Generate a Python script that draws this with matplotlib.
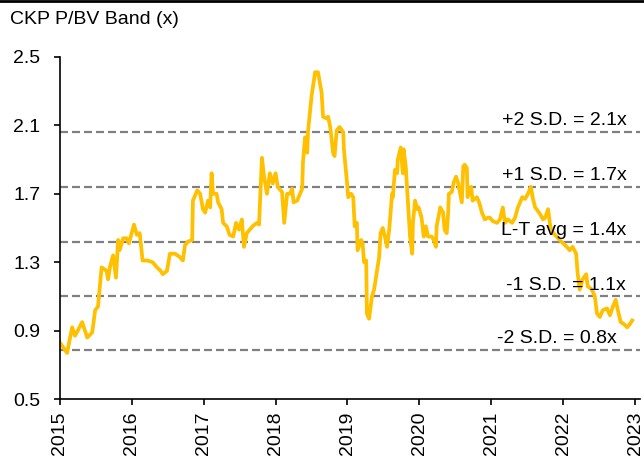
import matplotlib
matplotlib.use('Agg')
import matplotlib.pyplot as plt
from matplotlib.lines import Line2D

plt.rcParams['font.family'] = ['Liberation Sans', 'DejaVu Sans']

# P/BV series (decimal year, multiple)
years = [2015.00, 2015.10, 2015.17, 2015.21, 2015.31, 2015.38, 2015.45, 2015.49, 2015.53, 2015.58,
         2015.65, 2015.67, 2015.70, 2015.74, 2015.78, 2015.81, 2015.83, 2015.88, 2015.93, 2015.96,
         2016.03, 2016.07, 2016.11, 2016.15, 2016.22, 2016.29, 2016.35, 2016.40, 2016.43, 2016.49,
         2016.53, 2016.60, 2016.67, 2016.71, 2016.74, 2016.78, 2016.84, 2016.85, 2016.91, 2016.95,
         2016.99, 2017.02, 2017.06, 2017.09, 2017.11, 2017.13, 2017.18, 2017.20, 2017.25, 2017.27,
         2017.32, 2017.36, 2017.41, 2017.45, 2017.49, 2017.53, 2017.56, 2017.60, 2017.64, 2017.68,
         2017.74, 2017.77, 2017.81, 2017.84, 2017.88, 2017.92, 2017.96, 2018.00, 2018.03, 2018.09,
         2018.12, 2018.16, 2018.20, 2018.23, 2018.25, 2018.30, 2018.37, 2018.38, 2018.41, 2018.44,
         2018.45, 2018.50, 2018.55, 2018.59, 2018.64, 2018.66, 2018.71, 2018.73, 2018.76, 2018.80,
         2018.82, 2018.85, 2018.89, 2018.94, 2018.95, 2018.99, 2019.01, 2019.05, 2019.08, 2019.10,
         2019.13, 2019.14, 2019.19, 2019.21, 2019.23, 2019.26, 2019.27, 2019.30, 2019.34, 2019.37,
         2019.41, 2019.44, 2019.46, 2019.49, 2019.52, 2019.55, 2019.58, 2019.62, 2019.63, 2019.66,
         2019.69, 2019.70, 2019.74, 2019.77, 2019.78, 2019.81, 2019.84, 2019.87, 2019.90, 2019.91,
         2019.94, 2019.97, 2019.99, 2020.03, 2020.06, 2020.09, 2020.12, 2020.17, 2020.20, 2020.23,
         2020.24, 2020.29, 2020.33, 2020.35, 2020.38, 2020.40, 2020.41, 2020.45, 2020.48, 2020.51,
         2020.54, 2020.59, 2020.61, 2020.63, 2020.66, 2020.67, 2020.72, 2020.74, 2020.80, 2020.83,
         2020.87, 2020.91, 2020.95, 2020.98, 2021.02, 2021.08, 2021.12, 2021.16, 2021.19, 2021.23,
         2021.29, 2021.33, 2021.37, 2021.43, 2021.47, 2021.51, 2021.55, 2021.58, 2021.61, 2021.63,
         2021.68, 2021.72, 2021.75, 2021.79, 2021.82, 2021.86, 2021.91, 2021.95, 2022.00, 2022.05,
         2022.09, 2022.13, 2022.18, 2022.20, 2022.23, 2022.27, 2022.32, 2022.34, 2022.40, 2022.44,
         2022.47, 2022.51, 2022.55, 2022.61, 2022.65, 2022.69, 2022.73, 2022.76, 2022.80, 2022.84,
         2022.89, 2022.93, 2022.96]
pbv = [0.83, 0.77, 0.92, 0.87, 0.95, 0.86, 0.89, 1.02, 1.04, 1.27,
       1.25, 1.20, 1.28, 1.34, 1.21, 1.43, 1.37, 1.44, 1.44, 1.41,
       1.52, 1.46, 1.47, 1.31, 1.31, 1.30, 1.27, 1.25, 1.23, 1.25,
       1.35, 1.35, 1.33, 1.31, 1.40, 1.42, 1.43, 1.66, 1.72, 1.70,
       1.61, 1.59, 1.66, 1.62, 1.82, 1.70, 1.70, 1.65, 1.61, 1.53,
       1.51, 1.46, 1.45, 1.53, 1.49, 1.55, 1.39, 1.47, 1.49, 1.51,
       1.53, 1.52, 1.91, 1.80, 1.70, 1.82, 1.76, 1.82, 1.74, 1.71,
       1.53, 1.70, 1.70, 1.73, 1.65, 1.66, 1.73, 1.88, 2.03, 1.94,
       2.06, 2.27, 2.41, 2.41, 2.29, 2.15, 2.14, 2.15, 2.09, 1.94,
       1.92, 2.07, 2.09, 2.06, 1.96, 1.78, 1.68, 1.70, 1.68, 1.51,
       1.53, 1.37, 1.43, 1.41, 1.30, 1.31, 1.00, 0.97, 1.10, 1.14,
       1.25, 1.33, 1.47, 1.50, 1.45, 1.39, 1.49, 1.70, 1.68, 1.84,
       1.82, 1.90, 1.97, 1.82, 1.96, 1.86, 1.66, 1.45, 1.35, 1.53,
       1.66, 1.61, 1.62, 1.56, 1.45, 1.51, 1.45, 1.45, 1.43, 1.39,
       1.51, 1.62, 1.59, 1.49, 1.47, 1.59, 1.70, 1.71, 1.77, 1.80,
       1.76, 1.65, 1.86, 1.87, 1.85, 1.68, 1.74, 1.66, 1.68, 1.65,
       1.59, 1.55, 1.56, 1.56, 1.54, 1.53, 1.55, 1.62, 1.53, 1.55,
       1.53, 1.56, 1.62, 1.68, 1.67, 1.70, 1.74, 1.67, 1.62, 1.61,
       1.58, 1.55, 1.56, 1.61, 1.51, 1.47, 1.45, 1.43, 1.41, 1.39,
       1.37, 1.39, 1.35, 1.24, 1.14, 1.20, 1.23, 1.16, 1.14, 1.10,
       1.00, 0.98, 1.02, 1.03, 0.99, 1.04, 1.08, 1.02, 0.95, 0.94,
       0.92, 0.94, 0.96]

# band levels and their labels
band_levels = [2.06, 1.74, 1.42, 1.10, 0.79]
band_labels = ['+2 S.D. = 2.1x', '+1 S.D. = 1.7x', 'L-T avg = 1.4x',
               '-1 S.D. = 1.1x', '-2 S.D. = 0.8x']
band_label_x = [2022.89, 2022.89, 2022.87, 2022.87, 2022.75]

year_ticks = list(range(2015, 2024))
y_ticks = [0.5, 0.9, 1.3, 1.7, 2.1, 2.5]

fig = plt.figure(figsize=(6.44, 4.62), dpi=100)
ax = fig.add_axes([0.093, 0.136, 0.901, 0.741])

# Band lines
for lvl, lab, lx in zip(band_levels, band_labels, band_label_x):
    ax.axhline(lvl, color='#808080', lw=1.6, ls=(0, (3.6, 1.8)), zorder=1)
    ax.annotate(lab, xy=(lx, lvl), xytext=(0, 2), textcoords='offset points',
                ha='right', va='bottom', fontsize=14, color='black', zorder=3)

ax.plot(years, pbv, color='#FFC000', lw=2.7, zorder=2)

ax.set_xlim(2015, 2023.07)
ax.set_ylim(0.5, 2.5)
ax.set_xticks(year_ticks)
ax.set_xticklabels([str(y) for y in year_ticks], rotation=90, fontsize=14)
ax.set_yticks(y_ticks)
ax.set_yticklabels(['%.1f' % v for v in y_ticks], fontsize=14)
ax.tick_params(direction='out', length=4, width=1.2)
ax.tick_params(axis='y', pad=10)
ax.tick_params(axis='x', pad=5)

for s in ['top', 'right']:
    ax.spines[s].set_visible(False)
for s in ['left', 'bottom']:
    ax.spines[s].set_linewidth(1.2)

fig.text(0.016, 0.957, 'CKP P/BV Band (x)', fontsize=14, ha='left', va='center')
fig.add_artist(Line2D([0, 1], [0.998, 0.998], color='black', lw=2, transform=fig.transFigure))

plt.savefig('out.png', dpi=100)
